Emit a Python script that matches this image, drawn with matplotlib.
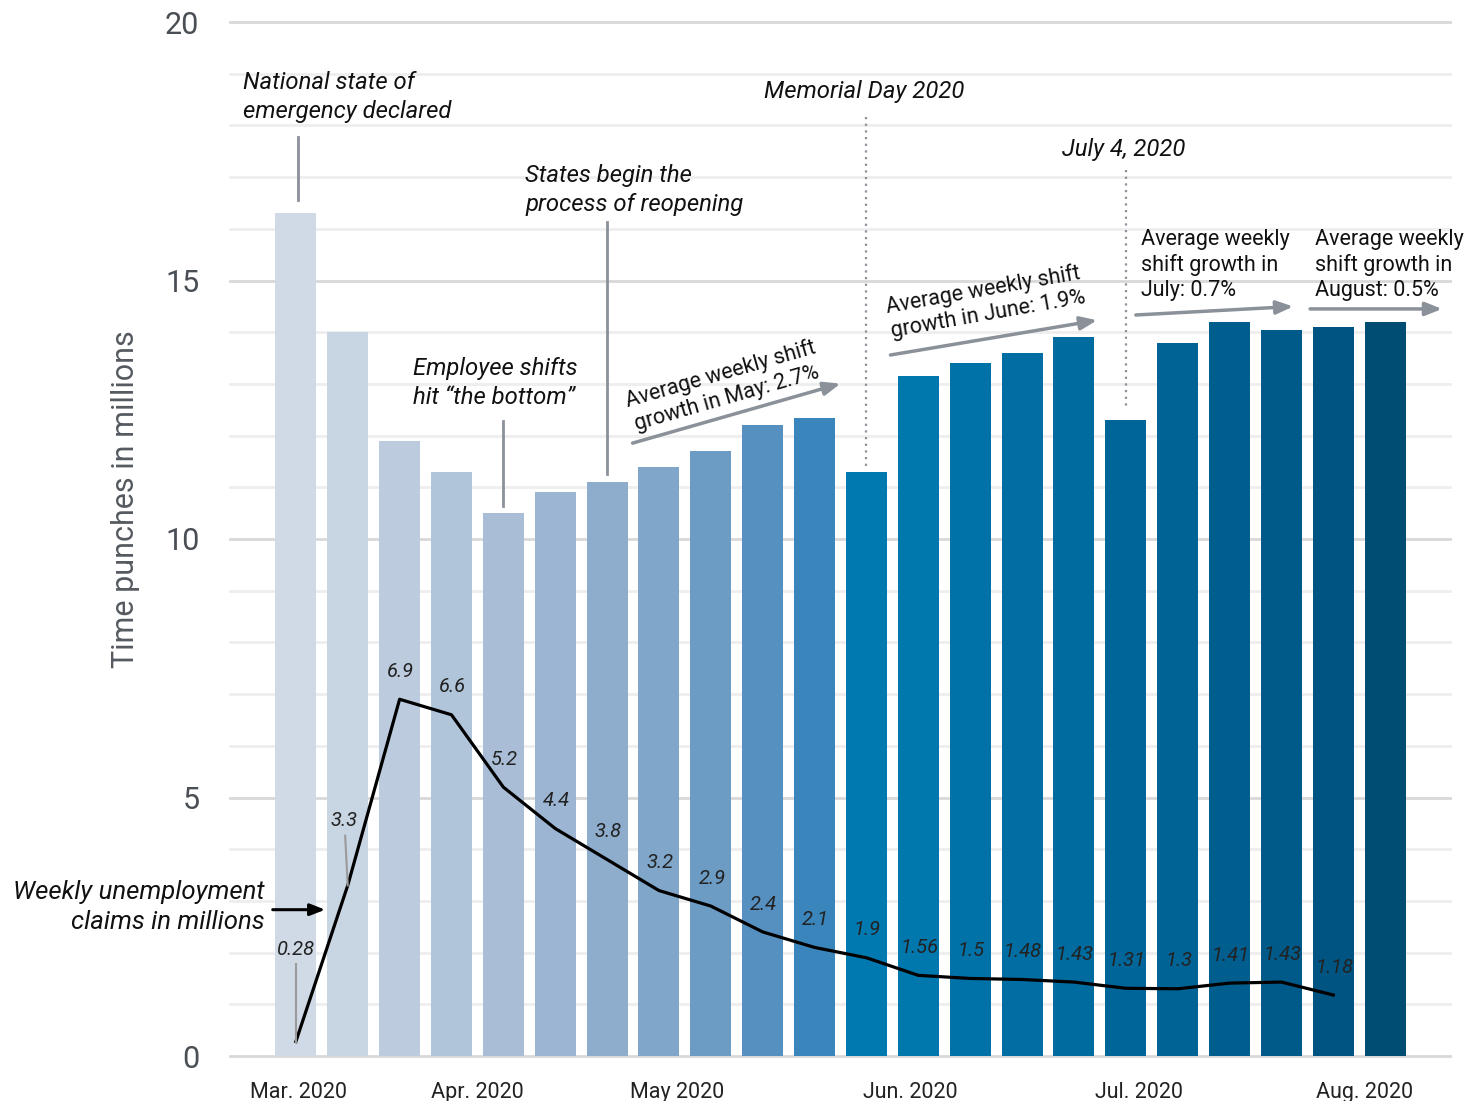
import matplotlib
matplotlib.use('Agg')
import matplotlib.pyplot as plt
import numpy as np

plt.rcParams['font.family'] = ['Roboto', 'DejaVu Sans']

# weekly time punches (millions), one bar per week
shifts = [16.3, 14.0, 11.9, 11.3, 10.5, 10.9, 11.1, 11.4, 11.7, 12.2, 12.35,
          11.3, 13.15, 13.4, 13.6, 13.9, 12.3, 13.8, 14.2, 14.05, 14.1, 14.2]
# weekly unemployment claims (millions)
claims = [0.28, 3.3, 6.9, 6.6, 5.2, 4.4, 3.8, 3.2, 2.9, 2.4, 2.1, 1.9, 1.56,
          1.5, 1.48, 1.43, 1.31, 1.3, 1.41, 1.43, 1.18]
claim_labels = ['0.28', '3.3', '6.9', '6.6', '5.2', '4.4', '3.8', '3.2', '2.9',
                '2.4', '2.1', '1.9', '1.56', '1.5', '1.48', '1.43', '1.31',
                '1.3', '1.41', '1.43', '1.18']
bar_colors = ['#d0dae6', '#c8d5e3', '#bccbdd', '#b1c5da', '#a9bed6', '#9cb5d2',
              '#8eadcd', '#80a6ca', '#6c9bc4', '#5590c0', '#3a85bb', '#0079b1',
              '#0078ae', '#0072a8', '#006ea2', '#006b9e', '#006598', '#006395',
              '#005e8e', '#005a89', '#005482', '#004d74']
month_labels = ['Mar. 2020', 'Apr. 2020', 'May 2020', 'Jun. 2020',
                'Jul. 2020', 'Aug. 2020']
month_pos = [0.05, 3.5, 7.35, 11.85, 16.25, 20.6]

fig = plt.figure(figsize=(14.76, 11.01), dpi=100)
ax = fig.add_axes([230 / 1476, 1 - 1056 / 1101, 1220 / 1476, 1034 / 1101])
ax.set_xlim(-1.27, 22.25)
ax.set_ylim(0, 20)
for s in ax.spines.values():
    s.set_visible(False)

# grid
for v in range(0, 21):
    col = '#d8d8d8' if v % 5 == 0 else '#eeeeee'
    ax.axhline(v, color=col, lw=2, zorder=0, clip_on=False)

x = np.arange(len(shifts))
ax.bar(x, shifts, width=0.79, color=bar_colors, zorder=2)

xl = np.arange(len(claims))
ax.plot(xl, claims, color='black', lw=2.3, zorder=4)

# value labels on the claims line
for i, (v, lab) in enumerate(zip(claims, claim_labels)):
    if i == 0:
        ax.text(i, v + 1.78, lab, ha='center', va='center', fontsize=14.5,
                style='italic', color='#222222', zorder=5)
        ax.plot([i, i], [v + 1.5, v], color='#9a9a9a', lw=1.5, zorder=5)
    elif i == 1:
        ax.text(i - 0.07, v + 1.26, lab, ha='center', va='center',
                fontsize=14.5, style='italic', color='#222222', zorder=5)
        ax.plot([i - 0.05, i], [v + 0.96, v], color='#9a9a9a', lw=1.5, zorder=5)
    else:
        ax.text(i + 0.02, v + 0.54, lab, ha='center', va='center',
                fontsize=14.5, style='italic', color='#222222', zorder=5)

ax.set_yticks([0, 5, 10, 15, 20])
ax.set_yticklabels(['0', '5', '10', '15', '20'], fontsize=22, color='#4a4f55')
ax.set_xticks(month_pos)
ax.set_xticklabels(month_labels, fontsize=15.5, color='#222222')
ax.tick_params(axis='both', length=0)
ax.tick_params(axis='y', pad=22)
ax.tick_params(axis='x', pad=19)
ax.set_ylabel('Time punches in millions', fontsize=22, color='#555a60')
ax.yaxis.set_label_coords(-0.074, 0.539)

annot = dict(fontsize=17.2, style='italic', color='#111111', linespacing=1.3)
grey = '#8a9199'

# event annotations
ax.text(-1.02, 18.55, 'National state of\nemergency declared', ha='left',
        va='center', **annot)
ax.plot([0.04, 0.04], [17.78, 16.56], color=grey, lw=2)

ax.text(4.42, 16.75, 'States begin the\nprocess of reopening', ha='left',
        va='center', **annot)
ax.plot([6, 6], [16.13, 11.26], color=grey, lw=2)

ax.text(2.26, 13.02, 'Employee shifts\nhit \u201cthe bottom\u201d', ha='left',
        va='center', **annot)
ax.plot([4, 4], [12.28, 10.64], color=grey, lw=2)

ax.text(9.02, 18.65, 'Memorial Day 2020', ha='left', va='center', **annot)
ax.plot([11, 11], [18.16, 11.37], color=grey, lw=1.6, ls=(0, (1, 2)))

ax.text(14.77, 17.54, 'July 4, 2020', ha='left', va='center', **annot)
ax.plot([16, 16], [17.14, 12.5], color=grey, lw=1.6, ls=(0, (1, 2)))

# growth arrows
arr = dict(arrowstyle='-|>,head_length=1.0,head_width=0.4', color=grey, lw=2.5)
ax.annotate('', xy=(10.55, 13.02), xytext=(6.44, 11.84), arrowprops=arr)
ax.annotate('', xy=(15.5, 14.24), xytext=(11.41, 13.55), arrowprops=arr)
ax.annotate('', xy=(19.28, 14.5), xytext=(16.14, 14.33), arrowprops=arr)
ax.annotate('', xy=(22.15, 14.45), xytext=(19.5, 14.45), arrowprops=arr)

gtxt = dict(fontsize=15.5, color='#111111', linespacing=1.25)
ax.text(8.25, 12.95, 'Average weekly shift\ngrowth in May: 2.7%', ha='center',
        va='center', rotation=16, rotation_mode='anchor', **gtxt)
ax.text(13.3, 14.58, 'Average weekly shift\ngrowth in June: 1.9%',
        ha='center', va='center', rotation=10, rotation_mode='anchor', **gtxt)
ax.text(16.3, 15.3, 'Average weekly\nshift growth in\nJuly: 0.7%', ha='left',
        va='center', **gtxt)
ax.text(19.65, 15.3, 'Average weekly\nshift growth in\nAugust: 0.5%',
        ha='left', va='center', **gtxt)

# legend-like label for the line
ax.text(-0.6, 2.88, 'Weekly unemployment\nclaims in millions', ha='right',
        va='center', fontsize=18.5, style='italic', color='#111111',
        linespacing=1.3)
ax.annotate('', xy=(0.62, 2.83), xytext=(-0.5, 2.83), annotation_clip=False,
            arrowprops=dict(arrowstyle='-|>,head_length=0.9,head_width=0.35',
                            color='black', lw=2.2))

fig.savefig('out.png', dpi=100)
